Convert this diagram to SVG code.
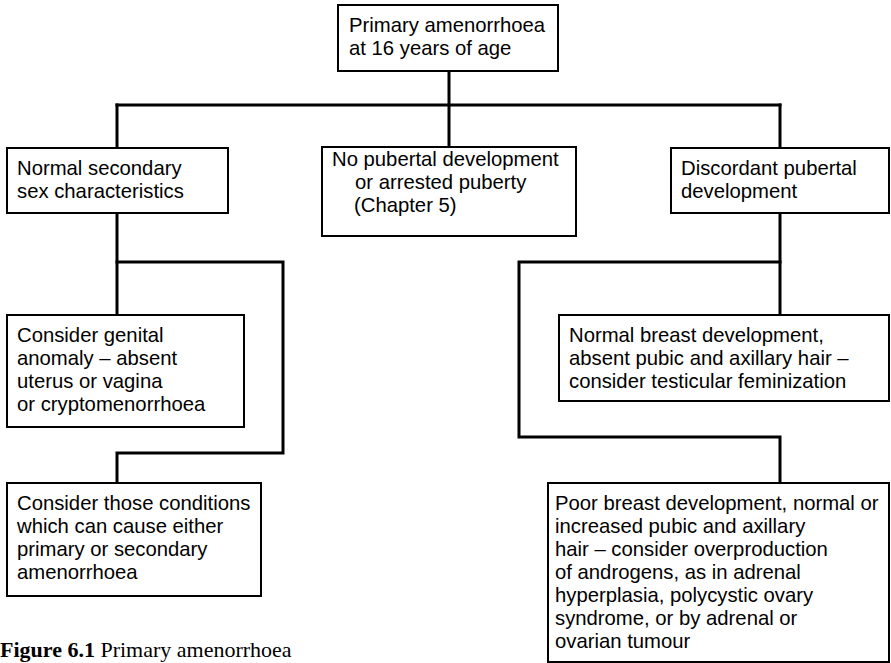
<svg xmlns="http://www.w3.org/2000/svg" width="891" height="663" viewBox="0 0 891 663">
  <style>
    .box { fill: #ffffff; stroke: #000000; stroke-width: 2; }
    .lbl { font-family: "Liberation Sans", Arial, sans-serif; font-size: 20.3px; fill: #000000; }
    .wire { fill: none; stroke: #000000; stroke-width: 3; stroke-linejoin: miter; stroke-linecap: square; }
    .cap { font-family: "Liberation Serif", "Times New Roman", serif; font-size: 22px; fill: #000000; }
  </style>
  <rect x="0" y="0" width="891" height="663" fill="#ffffff"/>

  <!-- connectors -->
  <g id="connectors">
    <path class="wire" d="M449 71 V147"/>
    <path class="wire" d="M117 105 H780"/>
    <path class="wire" d="M117 105 V148"/>
    <path class="wire" d="M780 105 V148"/>
    <path class="wire" d="M117 213 V315"/>
    <path class="wire" d="M117 262 H283 V453 H117 V483"/>
    <path class="wire" d="M780 213 V315"/>
    <path class="wire" d="M780 262 H519 V437 H780 V483"/>
  </g>

  <g id="start">
    <rect class="box" x="338" y="5" width="220" height="66"/>
    <text class="lbl" x="349" y="32">Primary amenorrhoea</text>
    <text class="lbl" x="349" y="55">at 16 years of age</text>
  </g>

  <g id="normal-secondary">
    <rect class="box" x="7" y="148" width="221" height="65"/>
    <text class="lbl" x="17" y="175">Normal secondary</text>
    <text class="lbl" x="17" y="198">sex characteristics</text>
  </g>

  <g id="no-puberty">
    <rect class="box" x="322" y="147" width="254" height="89"/>
    <text class="lbl" x="332" y="166">No pubertal development</text>
    <text class="lbl" x="355" y="189">or arrested puberty</text>
    <text class="lbl" x="354" y="212">(Chapter 5)</text>
  </g>

  <g id="discordant">
    <rect class="box" x="671" y="148" width="218" height="65"/>
    <text class="lbl" x="681" y="175">Discordant pubertal</text>
    <text class="lbl" x="681" y="198">development</text>
  </g>

  <g id="genital-anomaly">
    <rect class="box" x="7" y="315" width="237" height="112"/>
    <text class="lbl" x="17" y="342">Consider genital</text>
    <text class="lbl" x="17" y="365">anomaly – absent</text>
    <text class="lbl" x="17" y="388">uterus or vagina</text>
    <text class="lbl" x="17" y="411">or cryptomenorrhoea</text>
  </g>

  <g id="either-amenorrhoea">
    <rect class="box" x="7" y="483" width="254" height="113"/>
    <text class="lbl" x="17" y="510">Consider those conditions</text>
    <text class="lbl" x="17" y="533">which can cause either</text>
    <text class="lbl" x="17" y="556">primary or secondary</text>
    <text class="lbl" x="17" y="579">amenorrhoea</text>
  </g>

  <g id="testicular-feminization">
    <rect class="box" x="559" y="315" width="330" height="86"/>
    <text class="lbl" x="569" y="342">Normal breast development,</text>
    <text class="lbl" x="569" y="365">absent pubic and axillary hair –</text>
    <text class="lbl" x="569" y="388">consider testicular feminization</text>
  </g>

  <g id="androgen-excess">
    <rect class="box" x="548" y="483" width="341" height="179"/>
    <text class="lbl" x="555" y="510">Poor breast development, normal or</text>
    <text class="lbl" x="555" y="533">increased pubic and axillary</text>
    <text class="lbl" x="555" y="556">hair – consider overproduction</text>
    <text class="lbl" x="555" y="579">of androgens, as in adrenal</text>
    <text class="lbl" x="555" y="602">hyperplasia, polycystic ovary</text>
    <text class="lbl" x="555" y="625">syndrome, or by adrenal or</text>
    <text class="lbl" x="555" y="648">ovarian tumour</text>
  </g>

  <text class="cap" x="0" y="657"><tspan font-weight="bold">Figure 6.1</tspan> Primary amenorrhoea</text>
</svg>
